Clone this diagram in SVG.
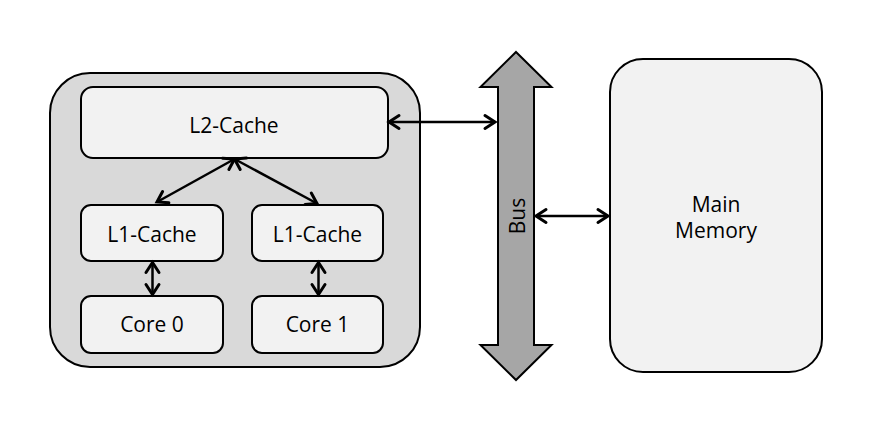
<svg xmlns="http://www.w3.org/2000/svg" width="873" height="423" viewBox="0 0 873 423">
  <defs>
    <style>
      .box { fill: #f2f2f2; stroke: #000; stroke-width: 2; }
      .outer { fill: #d9d9d9; stroke: #000; stroke-width: 2; }
      .bus { fill: #a6a6a6; stroke: #000; stroke-width: 2; stroke-linejoin: miter; }
      .lbl { font-family: "Open Sans", "Noto Sans", "DejaVu Sans", sans-serif; font-size: 21px; fill: #000; text-anchor: middle; }
      .conn { stroke: #000; stroke-width: 2.5; fill: none; marker-start: url(#head); marker-end: url(#head); }
    </style>
    <marker id="head" markerUnits="userSpaceOnUse" viewBox="-14 -10 16 20" refX="0" refY="0" markerWidth="16" markerHeight="20" orient="auto-start-reverse" overflow="visible">
      <path d="M-10,-6.5 L0,0 L-10,6.5" fill="none" stroke="#000" stroke-width="3" stroke-linecap="round" stroke-linejoin="miter"/>
    </marker>
  </defs>
  <rect width="873" height="423" fill="#fff"/>

  <g id="cpu">
    <rect class="outer" x="50" y="73" width="370" height="294" rx="40" ry="40"/>
  </g>
  <g id="l2cache">
    <rect class="box" x="81" y="87" width="307" height="71" rx="12" ry="12"/>
    <text class="lbl" x="234" y="132.5">L2-Cache</text>
  </g>
  <g id="l1cache0">
    <rect class="box" x="81" y="205" width="142" height="56" rx="10" ry="10"/>
    <text class="lbl" x="152" y="241.5">L1-Cache</text>
  </g>
  <g id="l1cache1">
    <rect class="box" x="252" y="205" width="131" height="56" rx="10" ry="10"/>
    <text class="lbl" x="317.5" y="241.5">L1-Cache</text>
  </g>
  <g id="core0">
    <rect class="box" x="81" y="296" width="142" height="57" rx="10" ry="10"/>
    <text class="lbl" x="152" y="332">Core 0</text>
  </g>
  <g id="core1">
    <rect class="box" x="252" y="296" width="131" height="57" rx="10" ry="10"/>
    <text class="lbl" x="317.5" y="332">Core 1</text>
  </g>
  <g id="bus">
    <polygon class="bus" points="516,52 551.5,87 534,87 534,345 551.5,345 516,380 480.5,345 498,345 498,87 480.5,87"/>
    <text class="lbl" transform="translate(524.5,216) rotate(-90)" x="0" y="0">Bus</text>
  </g>
  <g id="mainmemory">
    <rect class="box" x="610" y="59" width="212" height="313" rx="33" ry="33"/>
    <text class="lbl" x="716" y="211.5">Main</text>
    <text class="lbl" x="716" y="238">Memory</text>
  </g>

  <g id="connectors">
    <line class="conn" x1="389" y1="122" x2="495" y2="122"/>
    <line class="conn" x1="536" y1="216" x2="608" y2="216"/>
    <line class="conn" x1="234.5" y1="159" x2="157" y2="202"/>
    <line class="conn" x1="234.5" y1="159" x2="317" y2="203.5"/>
    <line class="conn" x1="152.5" y1="262.5" x2="152.5" y2="294.5"/>
    <line class="conn" x1="318.5" y1="262.5" x2="318.5" y2="294.5"/>
  </g>
</svg>
